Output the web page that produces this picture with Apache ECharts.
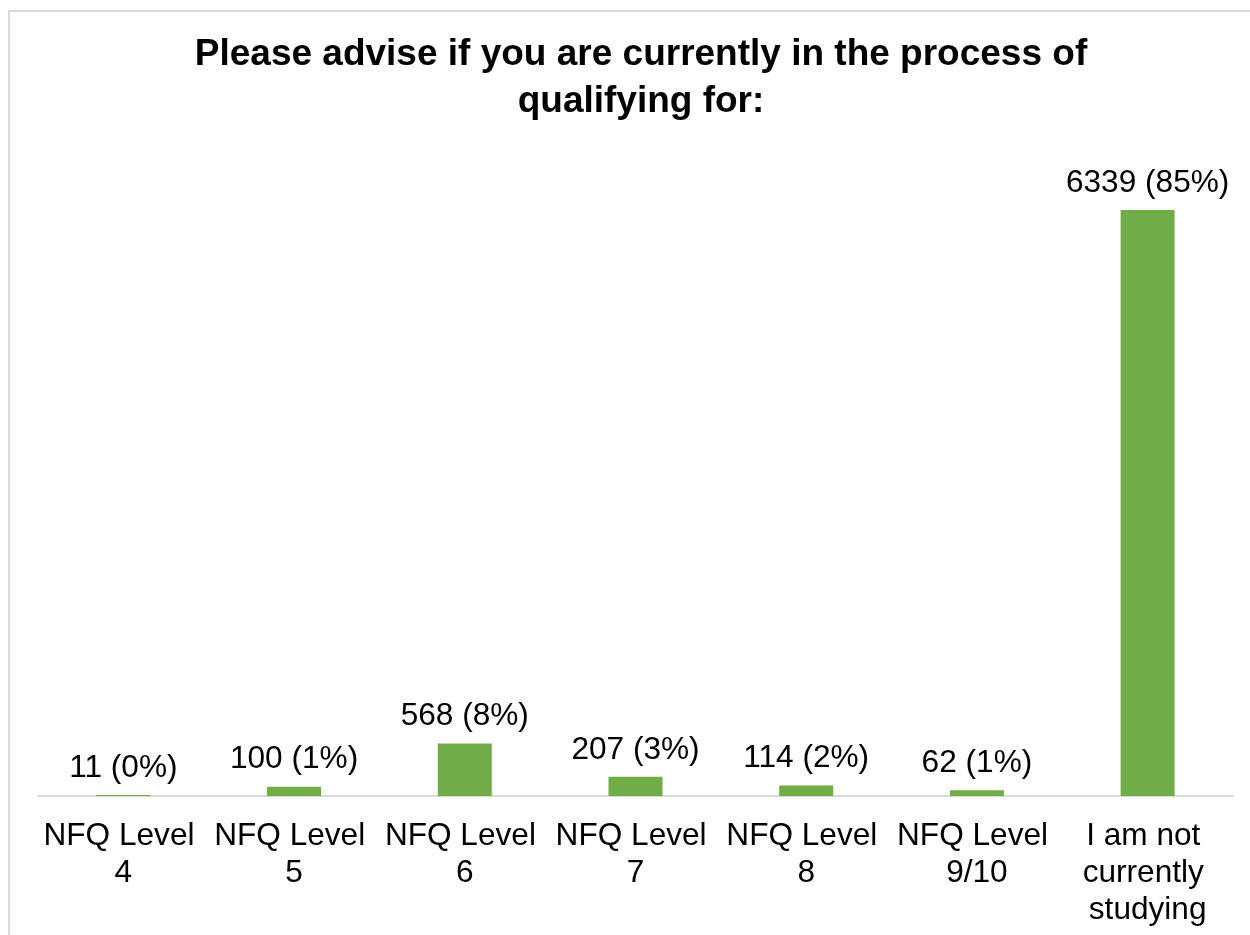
<!DOCTYPE html>
<html>
<head>
<meta charset="utf-8">
<script src="https://cdn.jsdelivr.net/npm/echarts@6/dist/echarts.min.js"></script>
<style>
html,body{margin:0;padding:0;background:#fff;}
#chart{width:1250px;height:935px;}
</style>
</head>
<body>
<div id="chart"></div>
<script>
const categories = ["NFQ Level 4", "NFQ Level 5", "NFQ Level 6", "NFQ Level 7", "NFQ Level 8", "NFQ Level 9/10", "I am not currently studying"];
const counts = [11, 100, 568, 207, 114, 62, 6339];
const percents = [0, 1, 8, 3, 2, 1, 85];
const titleText = "Please advise if you are currently in the process of\nqualifying for:";

const FONT = '"Liberation Sans", Arial, sans-serif';
const chart = echarts.init(document.getElementById('chart'));
chart.setOption({
  backgroundColor: '#ffffff',
  animation: false,
  title: {
    text: titleText,
    left: 636,
    top: 26,
    textAlign: 'center',
    textStyle: {
      fontFamily: FONT,
      fontWeight: 'bold',
      fontSize: 37,
      lineHeight: 47,
      color: '#000000'
    }
  },
  graphic: [{
    type: 'rect',
    shape: { x: 9, y: 11, width: 1300, height: 1000 },
    style: { fill: 'none', stroke: '#d9d9d9', lineWidth: 2 },
    silent: true
  }],
  grid: { left: 38, right: 17, top: 149, bottom: 139, containLabel: false },
  xAxis: {
    type: 'category',
    data: categories,
    axisLine: { show: true, lineStyle: { color: '#d9d9d9', width: 2 } },
    axisTick: { show: false },
    axisLabel: {
      interval: 0,
      margin: 22,
      fontFamily: FONT,
      fontSize: 31.6,
      lineHeight: 37,
      color: '#000000',
      width: 165,
      overflow: 'break'
    }
  },
  yAxis: {
    type: 'value',
    min: 0,
    max: 7000,
    show: false,
    splitLine: { show: false }
  },
  series: [{
    type: 'bar',
    data: counts,
    barWidth: 54,
    itemStyle: { color: '#70AD47' },
    label: {
      show: true,
      position: 'top',
      distance: 11,
      fontFamily: FONT,
      fontSize: 31.6,
      color: '#000000',
      formatter: p => counts[p.dataIndex] + ' (' + percents[p.dataIndex] + '%)'
    }
  }]
});
</script>
</body>
</html>
